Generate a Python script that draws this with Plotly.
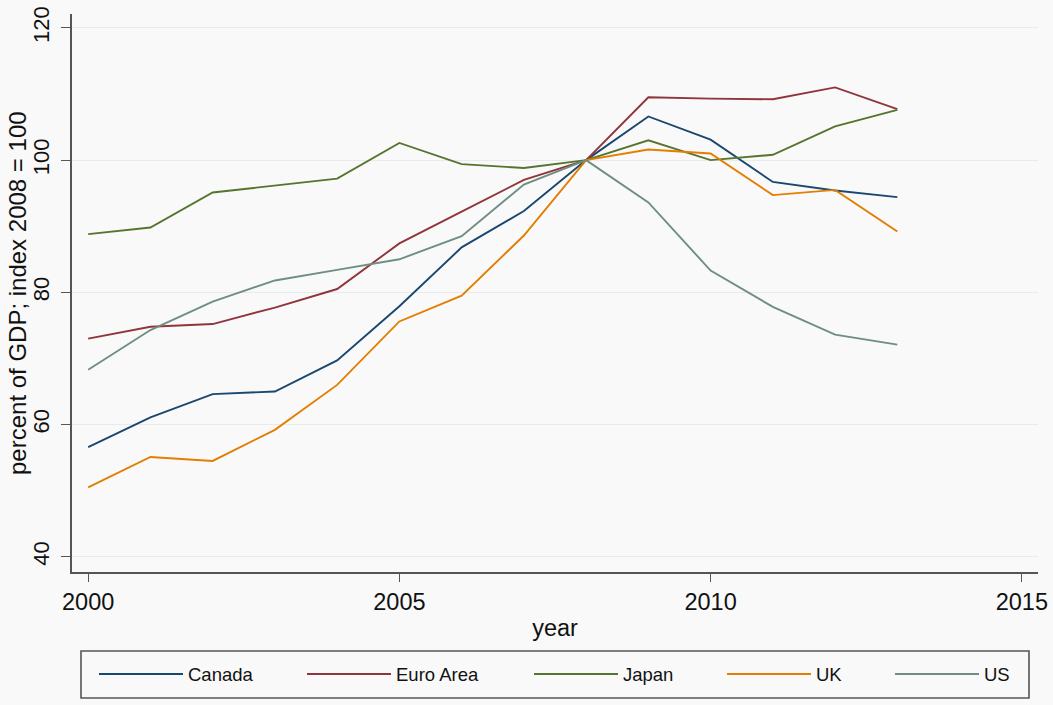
import plotly.graph_objects as go

years = list(range(2000, 2014))
canada = [56.6, 61.1, 64.6, 65.0, 69.7, 77.9, 86.8, 92.3, 100.0, 106.6, 103.1, 96.7, 95.4, 94.4]
euro_area = [73.0, 74.8, 75.2, 77.7, 80.5, 87.4, 92.2, 97.0, 100.0, 109.5, 109.3, 109.2, 111.0, 107.7]
japan = [88.8, 89.8, 95.1, 96.2, 97.2, 102.6, 99.4, 98.8, 100.0, 103.0, 100.0, 100.8, 105.1, 107.6]
uk = [50.5, 55.1, 54.5, 59.2, 66.0, 75.6, 79.5, 88.6, 100.0, 101.6, 101.0, 94.7, 95.5, 89.2]
us = [68.3, 74.3, 78.6, 81.8, 83.4, 85.0, 88.5, 96.3, 100.0, 93.6, 83.3, 77.8, 73.6, 72.1]

series_names = ["Canada", "Euro Area", "Japan", "UK", "US"]
series_values = [canada, euro_area, japan, uk, us]
colors = ["#1a476f", "#90353b", "#55752f", "#e37e00", "#6e8e84"]

x_ticks = [2000, 2005, 2010, 2015]
y_ticks = [40, 60, 80, 100, 120]
y_title = "percent of GDP; index 2008 = 100"
x_title = "year"

FONT = "Liberation Sans, Arial, Helvetica, sans-serif"
BG = "#f9f9f9"

W, H = 1053, 705
ml, mr, mt, mb = 72, 15, 14, 133
pw, ph = W - ml - mr, H - mt - mb

def px_to_paper_x(px):
    return (px - ml) / pw

def px_to_paper_y(py):
    return (H - mb - py) / ph

# legend entry left edges (pixels) in the reference's legend box
legend_left_px = [94, 302, 529, 722, 890]
legend_ids = ["legend", "legend2", "legend3", "legend4", "legend5"]

fig = go.Figure()
for name, vals, col, lid in zip(series_names, series_values, colors, legend_ids):
    fig.add_trace(go.Scatter(x=years, y=vals, mode="lines", name=name, legend=lid,
                             line=dict(color=col, width=1.9)))

layout_legends = {}
for lid, lx in zip(legend_ids, legend_left_px):
    layout_legends[lid] = dict(orientation="h", x=px_to_paper_x(lx), xanchor="left",
                               y=px_to_paper_y(674.5), yanchor="middle",
                               font=dict(size=18.5, family=FONT, color="#111"),
                               bgcolor="rgba(0,0,0,0)", borderwidth=0,
                               itemwidth=84)

fig.update_layout(
    width=W, height=H,
    margin=dict(l=ml, r=mr, t=mt, b=mb, autoexpand=False),
    paper_bgcolor=BG, plot_bgcolor=BG,
    font=dict(family=FONT, color="#111111"),
    showlegend=True,
    shapes=[dict(type="rect", xref="paper", yref="paper",
                 x0=px_to_paper_x(81), x1=px_to_paper_x(1029),
                 y0=px_to_paper_y(651), y1=px_to_paper_y(698),
                 line=dict(color="#555555", width=1.6), fillcolor="rgba(0,0,0,0)")],
    annotations=[dict(text=y_title, xref="paper", yref="paper",
                      x=px_to_paper_x(17), y=0.5, xanchor="center", yanchor="middle",
                      textangle=-90, showarrow=False,
                      font=dict(size=24, family=FONT, color="#111"))],
    **layout_legends,
)

fig.update_xaxes(range=[1999.74, 2015.26], tickvals=x_ticks, automargin=False,
                 ticks="outside", ticklen=8, tickwidth=1.3, tickcolor="#555",
                 showline=True, linecolor="#555", linewidth=1.5,
                 showgrid=False, zeroline=False,
                 tickfont=dict(size=23.5, family=FONT, color="#111"),
                 title=dict(text=x_title, font=dict(size=23.5, family=FONT, color="#111"), standoff=6))
fig.update_yaxes(range=[37.7, 122.1], tickvals=y_ticks, automargin=False,
                 ticks="outside", ticklen=9, tickwidth=1.3, tickcolor="#555",
                 showline=True, linecolor="#555", linewidth=1.5,
                 showgrid=True, gridcolor="#eaeaea", gridwidth=1.2, zeroline=False,
                 tickangle=-90, ticklabelstandoff=3,
                 tickfont=dict(size=22, family=FONT, color="#111"))

fig.write_html("out.html", config={"displayModeBar": False},
               post_script="document.body.style.margin='0px';")
